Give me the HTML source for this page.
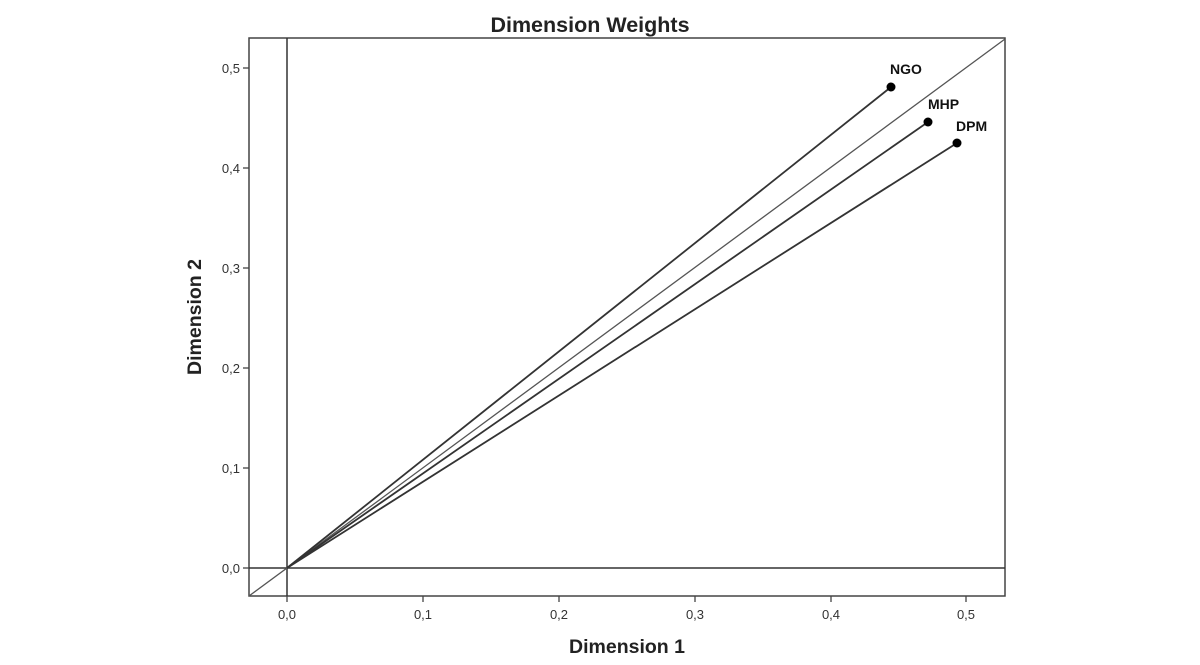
<!DOCTYPE html>
<html><head><style>body{margin:0;background:#fff}svg{display:block}</style></head><body>
<svg width="1200" height="665" xmlns="http://www.w3.org/2000/svg" font-family="Liberation Sans, Arial, sans-serif">
<rect x="0" y="0" width="1200" height="665" fill="#fff"/>
<text x="590" y="32" text-anchor="middle" font-size="21.5" font-weight="bold" fill="#222">Dimension Weights</text>
<rect x="249" y="38" width="756" height="558" fill="none" stroke="#444" stroke-width="1.5"/>
<g stroke="#333" stroke-width="1.5">
<line x1="287" y1="38" x2="287" y2="596"/>
<line x1="249" y1="568" x2="1005" y2="568"/>
</g>
<line x1="249" y1="596" x2="1005" y2="39" stroke="#555" stroke-width="1.3"/>
<g stroke="#333" stroke-width="1.8">
<line x1="287" y1="568" x2="891" y2="87"/>
<line x1="287" y1="568" x2="928" y2="122"/>
<line x1="287" y1="568" x2="957" y2="143"/>
</g>
<g fill="#000"><circle cx="891" cy="87" r="4.5"/><circle cx="928" cy="122" r="4.5"/><circle cx="957" cy="143" r="4.5"/></g>
<g font-size="14" font-weight="bold" fill="#111">
<text x="890" y="74">NGO</text><text x="928" y="109">MHP</text><text x="956" y="131">DPM</text>
</g>
<g stroke="#444" stroke-width="1.3">
<line x1="287" y1="596" x2="287" y2="602"/><line x1="423" y1="596" x2="423" y2="602"/><line x1="559" y1="596" x2="559" y2="602"/><line x1="695" y1="596" x2="695" y2="602"/><line x1="831" y1="596" x2="831" y2="602"/><line x1="966" y1="596" x2="966" y2="602"/>
<line x1="243" y1="568" x2="249" y2="568"/><line x1="243" y1="468" x2="249" y2="468"/><line x1="243" y1="368" x2="249" y2="368"/><line x1="243" y1="268" x2="249" y2="268"/><line x1="243" y1="168" x2="249" y2="168"/><line x1="243" y1="68" x2="249" y2="68"/>
</g>
<g font-size="13" fill="#333" text-anchor="middle">
<text x="287" y="619">0,0</text><text x="423" y="619">0,1</text><text x="559" y="619">0,2</text><text x="695" y="619">0,3</text><text x="831" y="619">0,4</text><text x="966" y="619">0,5</text>
</g>
<g font-size="13" fill="#333" text-anchor="end">
<text x="240" y="573">0,0</text><text x="240" y="473">0,1</text><text x="240" y="373">0,2</text><text x="240" y="273">0,3</text><text x="240" y="173">0,4</text><text x="240" y="73">0,5</text>
</g>
<text x="627" y="653" text-anchor="middle" font-size="19.5" font-weight="bold" fill="#222">Dimension 1</text>
<text transform="translate(201,317) rotate(-90)" text-anchor="middle" font-size="19.5" font-weight="bold" fill="#222">Dimension 2</text>
</svg>
</body></html>
